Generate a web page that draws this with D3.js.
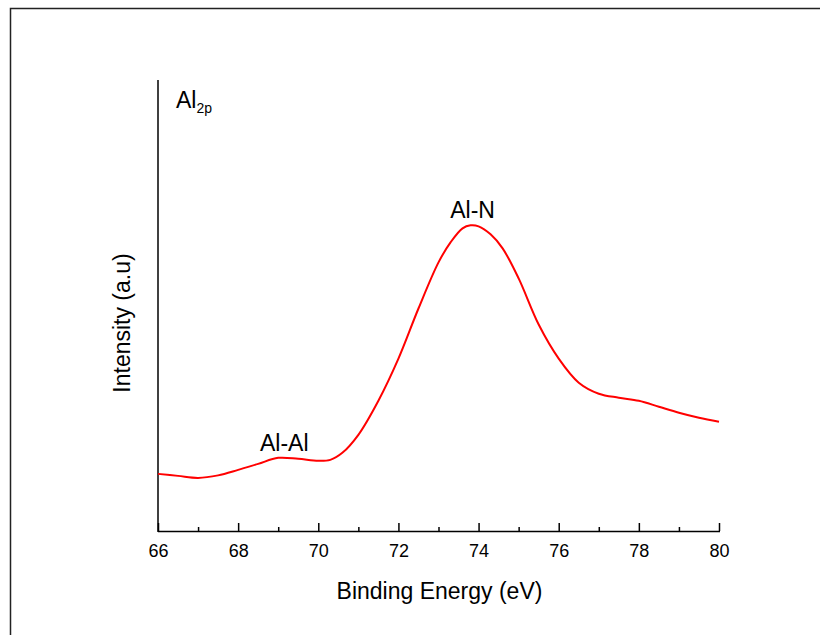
<!DOCTYPE html>
<html><head><meta charset="utf-8">
<script src="https://cdn.jsdelivr.net/npm/d3@7"></script>
<style>body{margin:0;background:#fff}svg{display:block;font-family:Arial,"Liberation Sans",sans-serif}</style>
</head><body><svg id="c" width="820" height="635"></svg>
<script>
const energy = [66,66.5,67,67.5,68,68.5,69,69.5,70,70.3,70.6,71,71.5,72,72.5,73,73.3,73.6,73.8,74,74.3,74.6,75,75.5,76,76.5,77,77.5,78,78.5,79,79.5,80];
const intensity = [57,55,53,55.5,61,67,73,72,70,71,78,96,130,172,222,268,288,302,305,304,296,282,252,206,172,148,137,133,130,124,118,113,109];
const xTicks = [66,68,70,72,74,76,78,80];
const minorTicks = [67,69,71,73,75,77,79];
const labels = [{t:"Al-Al",x:69.15,y:80},{t:"Al-N",x:73.85,y:312}];

const svg = d3.select("#c");
const L=158,R=719,T=80,B=531;
const x = d3.scaleLinear().domain([66,80]).range([L,R]);
const y = d3.scaleLinear().domain([0,450]).range([B,T]);

svg.append("path").attr("d","M10.5,635 L10.5,8.5 L820,8.5").attr("fill","none").attr("stroke","#222").attr("stroke-width",1.5);

const gx = svg.append("g").attr("transform",`translate(0,${B})`)
  .call(d3.axisBottom(x).tickValues(xTicks).tickSizeInner(-8).tickSizeOuter(0).tickPadding(13).tickFormat(d3.format("d")));
gx.select(".domain").attr("stroke","#000").attr("stroke-width",1.5).attr("d",`M${L},0.5H${R+1}`);
gx.selectAll(".tick line").attr("stroke","#000").attr("stroke-width",1.5);
gx.selectAll("text").attr("font-size",18).attr("fill","#000").attr("font-family","Arial, Liberation Sans, sans-serif");
const gm = svg.append("g").attr("transform",`translate(0,${B})`)
  .call(d3.axisBottom(x).tickValues(minorTicks).tickSizeInner(-4).tickSizeOuter(0).tickFormat(""));
gm.select(".domain").remove();
gm.selectAll(".tick line").attr("stroke","#000").attr("stroke-width",1.5);

svg.append("line").attr("x1",L).attr("x2",L).attr("y1",T).attr("y2",B+1).attr("stroke","#000").attr("stroke-width",1.5);

const line = d3.line().x((d,i)=>x(energy[i])).y(d=>y(d)).curve(d3.curveCatmullRom.alpha(0.5));
svg.append("path").datum(intensity).attr("d",line).attr("fill","none").attr("stroke","#ff0000").attr("stroke-width",2);

svg.selectAll(".lab").data(labels).enter().append("text")
  .attr("x",d=>x(d.x)).attr("y",d=>y(d.y)).attr("text-anchor","middle").attr("font-size",23).text(d=>d.t);

const t = svg.append("text").attr("x",176).attr("y",108).attr("font-size",23);
t.append("tspan").text("Al");
t.append("tspan").attr("font-size",14).attr("dy",5).text("2p");

svg.append("text").attr("x",(L+R)/2+1).attr("y",599).attr("text-anchor","middle").attr("font-size",23).text("Binding Energy (eV)");
svg.append("text").attr("transform","translate(130,323) rotate(-90)").attr("text-anchor","middle").attr("font-size",23).text("Intensity (a.u)");
</script></body></html>
